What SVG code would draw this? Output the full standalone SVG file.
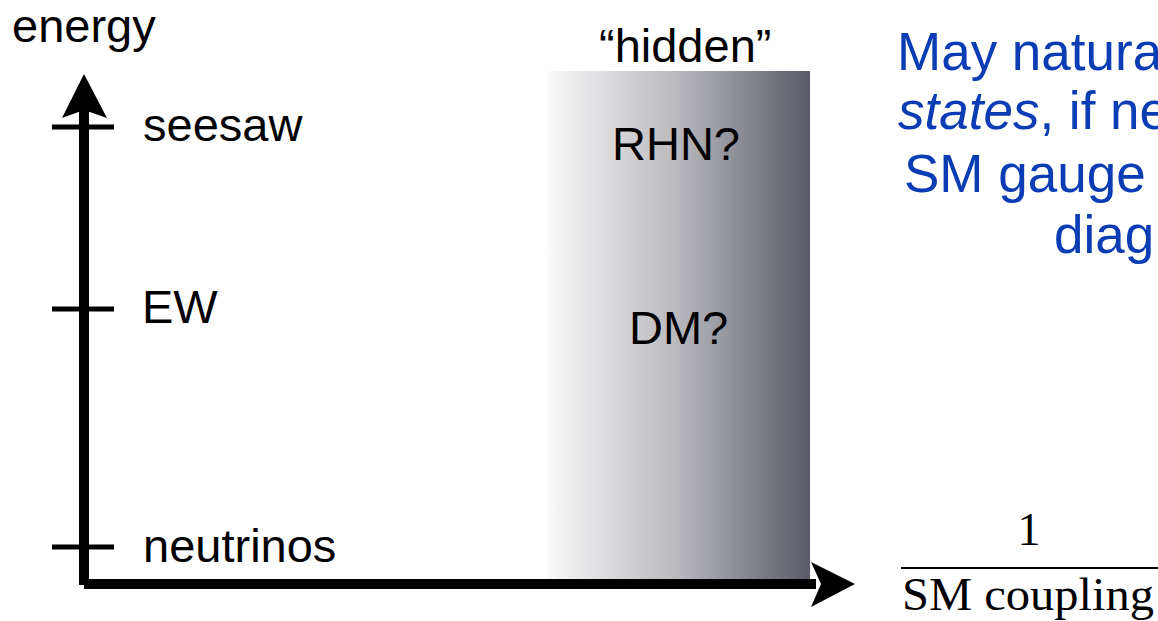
<svg xmlns="http://www.w3.org/2000/svg" width="1158" height="621" viewBox="0 0 1158 621">
  <style>
    .lbl { font-family: "Liberation Sans", Arial, sans-serif; font-size: 47px; fill: #000; }
    .blue { font-family: "Liberation Sans", Arial, sans-serif; font-size: 53px; fill: #0a3cb4; }
    .math { font-family: "Liberation Serif", "Times New Roman", serif; font-size: 46px; fill: #000; }
    .tick { stroke: #000; stroke-width: 5; }
  </style>
  <defs>
    <linearGradient id="hid" x1="0" y1="0" x2="1" y2="0">
      <stop offset="0" stop-color="#ffffff"/>
      <stop offset="0.06" stop-color="#f3f3f4"/>
      <stop offset="0.5" stop-color="#b9b9be"/>
      <stop offset="1" stop-color="#5a5a69"/>
    </linearGradient>
  </defs>
  <rect width="1158" height="621" fill="#fff"/>

  <g id="hidden-region">
    <rect x="543" y="71" width="267" height="509" fill="url(#hid)"/>
    <text class="lbl" x="599" y="62">“hidden”</text>
    <text class="lbl" x="612" y="160">RHN?</text>
    <text class="lbl" x="629" y="344">DM?</text>
  </g>

  <g id="connectors">
    <rect x="79" y="110" width="10" height="475" fill="#000"/>
    <polygon points="84,74 107,118 84,110 62,118" fill="#000"/>
    <rect x="84" y="579" width="732" height="10" fill="#000"/>
    <polygon points="811,562 855,584 811,607 821,584" fill="#000"/>
    <line class="tick" x1="52" y1="127" x2="114" y2="127"/>
    <line class="tick" x1="52" y1="309" x2="114" y2="309"/>
    <line class="tick" x1="52" y1="547" x2="114" y2="547"/>
  </g>

  <g id="axis-labels">
    <text class="lbl" x="12" y="42">energy</text>
    <text class="lbl" x="143" y="141">seesaw</text>
    <text class="lbl" x="142" y="323">EW</text>
    <text class="lbl" x="143" y="562">neutrinos</text>
  </g>

  <g id="note">
    <text class="blue" x="897" y="70">May natura</text>
    <text class="blue" x="898" y="129"><tspan font-style="italic">states</tspan>, if ne</text>
    <text class="blue" x="904" y="192">SM gauge</text>
    <text class="blue" x="1054" y="253">diag</text>
  </g>

  <g id="x-label">
    <text class="math" x="1029" y="545" text-anchor="middle">1</text>
    <line x1="901" y1="568" x2="1158" y2="568" stroke="#000" stroke-width="2"/>
    <text class="math" x="902" y="610" textLength="252" lengthAdjust="spacingAndGlyphs">SM coupling</text>
  </g>
</svg>
